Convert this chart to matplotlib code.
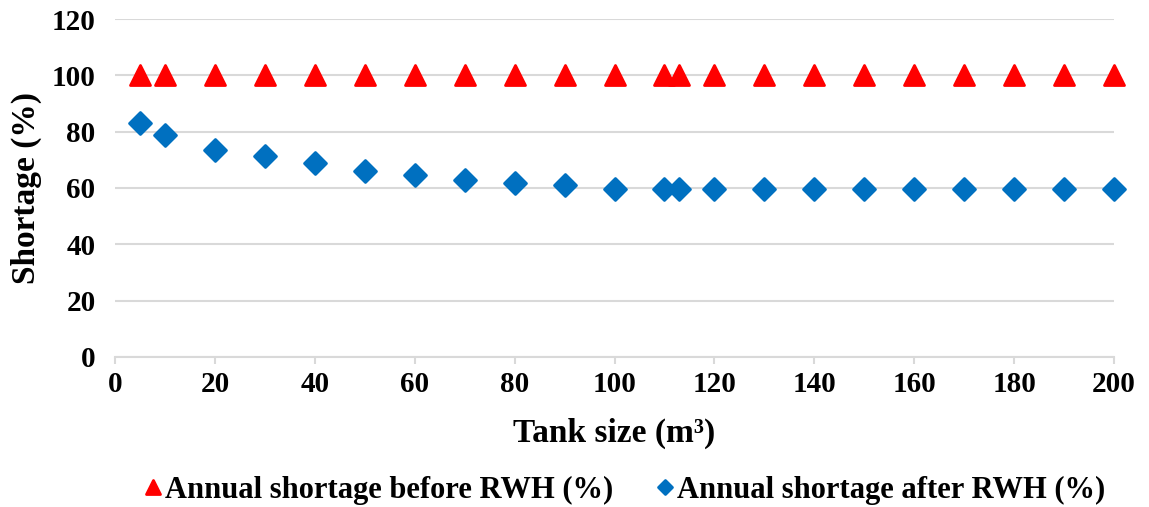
import numpy as np
import matplotlib
matplotlib.use("Agg")
import matplotlib.pyplot as plt
from matplotlib.markers import MarkerStyle

plt.rcParams['font.family'] = ['Liberation Serif', 'DejaVu Serif']
plt.rcParams['font.weight'] = 'bold'

# tank sizes [m3] and shortage [%]
tank_size = [5, 10, 20, 30, 40, 50, 60, 70, 80, 90, 100, 110, 113,
             120, 130, 140, 150, 160, 170, 180, 190, 200]
shortage_before = [100] * len(tank_size)
shortage_after = [83.0, 78.9, 73.4, 71.4, 68.8, 66.1, 64.5, 63.0, 61.8, 60.9,
                  59.8, 59.5, 59.5, 59.5, 59.5, 59.5, 59.5, 59.5, 59.5, 59.5,
                  59.5, 59.5]

x_ticks = np.arange(0, 201, 20)
y_ticks = np.arange(0, 121, 20)

RED = "#FF0000"
BLUE = "#0070C0"
GRID = "#D9D9D9"

fig = plt.figure(figsize=(11.49, 5.07), dpi=100)
ax = fig.add_axes([0.1001, 0.2959, 0.8695, 0.6666])

tri = MarkerStyle("^", joinstyle="round")
dia = MarkerStyle("D", joinstyle="round")

ax.plot(tank_size, shortage_before, linestyle="none", marker=tri,
        markersize=15, color=RED, markeredgecolor=RED, markeredgewidth=2,
        label="Annual shortage before RWH (%)", zorder=3, clip_on=False)
ax.plot(tank_size, shortage_after, linestyle="none", marker=dia,
        markersize=11.5, color=BLUE, markeredgecolor=BLUE, markeredgewidth=2,
        label="Annual shortage after RWH (%)", zorder=3, clip_on=False)

ax.set_xlim(0, 200)
ax.set_ylim(0, 120)
ax.set_xticks(x_ticks)
ax.set_yticks(y_ticks)

ax.grid(axis="y", color=GRID, linewidth=1.5)
ax.set_axisbelow(True)
for s in ["top", "right", "left"]:
    ax.spines[s].set_visible(False)
ax.spines["bottom"].set_color(GRID)
ax.spines["bottom"].set_linewidth(1.5)

ax.tick_params(axis="x", direction="out", length=5, width=1.5, color=GRID,
               labelsize=21, pad=5)
ax.tick_params(axis="y", length=0, labelsize=21, pad=14)
for lbl in ax.get_xticklabels() + ax.get_yticklabels():
    lbl.set_fontweight("bold")

ax.set_xlabel("Tank size (m³)", fontsize=24, fontweight="bold", labelpad=14)
ax.set_ylabel("Shortage (%)", fontsize=24, fontweight="bold", labelpad=7)

leg = ax.legend(loc="center", bbox_to_anchor=(0.51, -0.395), ncol=2,
                frameon=False, fontsize=22, handlelength=0.6,
                handletextpad=0.1, columnspacing=1.4, markerscale=0.65)
for t in leg.get_texts():
    t.set_fontweight("bold")

fig.savefig("out.png", dpi=100)
